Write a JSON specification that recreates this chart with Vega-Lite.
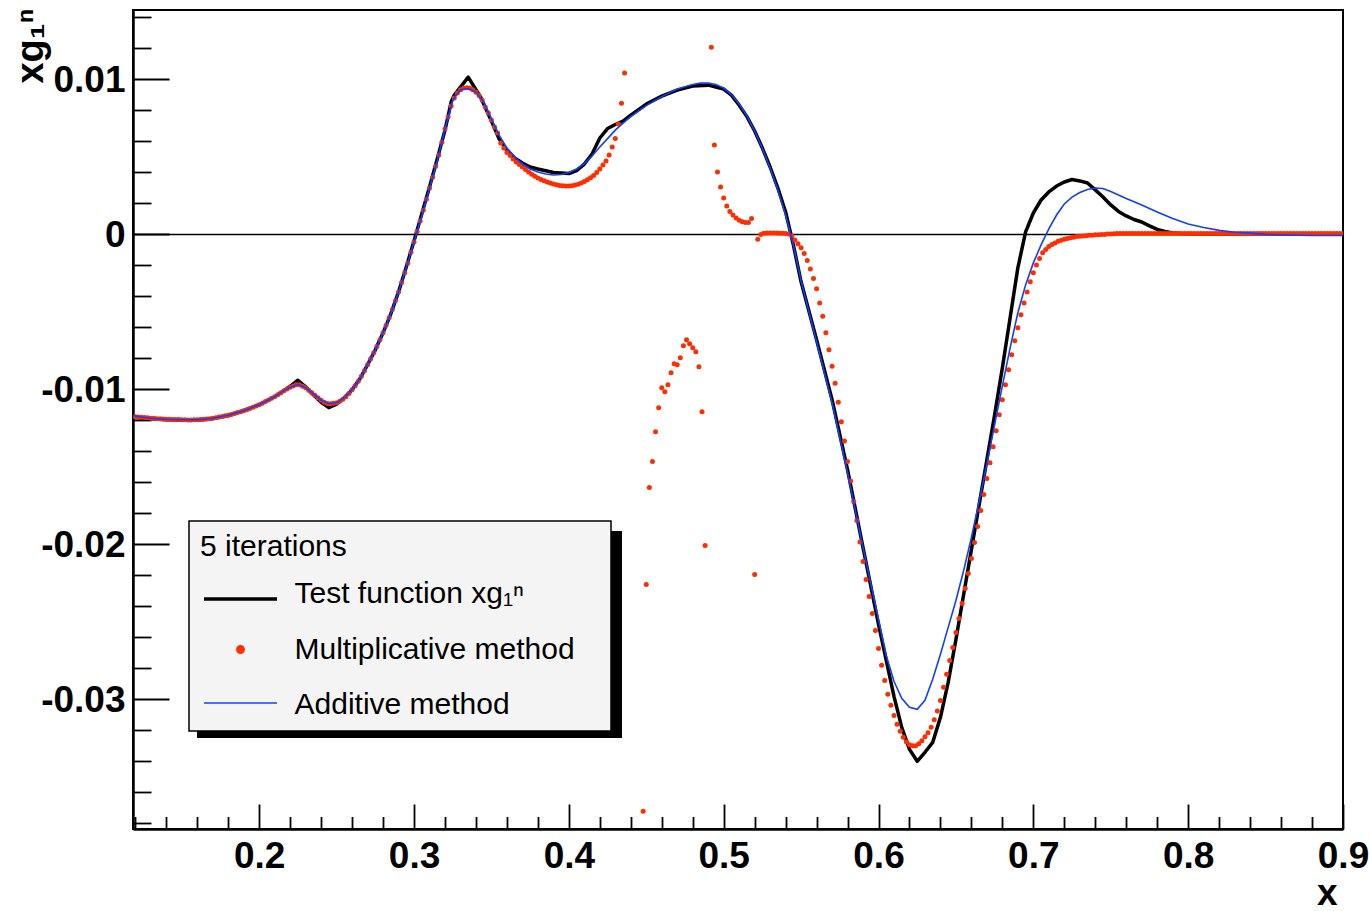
{
"$schema": "https://vega.github.io/schema/vega-lite/v6.json",
"width": 1210,
"height": 819,
"autosize": {"type": "none"},
"padding": {"left": 133, "top": 10, "right": 26, "bottom": 82},
"background": "white",
"config": {
  "font": "Liberation Sans",
  "view": {"stroke": "black", "strokeWidth": 2},
  "axis": {"labelColor": "black", "titleColor": "black", "domainColor": "black", "tickColor": "black"}
},
"datasets": {
"T": [
{"x":0.1185,"y":-0.01183},{"x":0.125,"y":-0.01189},{"x":0.13,"y":-0.01192},{"x":0.14,"y":-0.01199},{"x":0.15,"y":-0.01202},{"x":0.16,"y":-0.01202},{"x":0.17,"y":-0.01192},{"x":0.18,"y":-0.01173},{"x":0.19,"y":-0.01141},{"x":0.2,"y":-0.01102},{"x":0.21,"y":-0.01051},{"x":0.215,"y":-0.01018},{"x":0.22,"y":-0.00983},{"x":0.225,"y":-0.00944},{"x":0.23,"y":-0.00986},{"x":0.235,"y":-0.01038},{"x":0.24,"y":-0.01086},{"x":0.245,"y":-0.01121},{"x":0.25,"y":-0.01099},{"x":0.255,"y":-0.01057},{"x":0.26,"y":-0.01005},{"x":0.265,"y":-0.00935},{"x":0.27,"y":-0.00844},{"x":0.275,"y":-0.00748},{"x":0.28,"y":-0.00638},{"x":0.285,"y":-0.00516},{"x":0.29,"y":-0.00374},{"x":0.295,"y":-0.00213},{"x":0.3,"y":-0.00045},{"x":0.305,"y":0.00129},{"x":0.31,"y":0.00303},{"x":0.315,"y":0.00483},{"x":0.32,"y":0.0067},{"x":0.324,"y":0.00851},{"x":0.326,"y":0.00896},{"x":0.335,"y":0.01012},{"x":0.343,"y":0.00883},{"x":0.35,"y":0.00728},{"x":0.355,"y":0.00612},{"x":0.36,"y":0.00541},{"x":0.365,"y":0.0049},{"x":0.37,"y":0.00458},{"x":0.375,"y":0.00432},{"x":0.38,"y":0.00419},{"x":0.39,"y":0.00396},{"x":0.4,"y":0.0039},{"x":0.405,"y":0.00409},{"x":0.41,"y":0.00451},{"x":0.415,"y":0.00516},{"x":0.42,"y":0.00619},{"x":0.425,"y":0.0068},{"x":0.43,"y":0.00706},{"x":0.435,"y":0.00728},{"x":0.44,"y":0.00767},{"x":0.45,"y":0.00838},{"x":0.46,"y":0.00889},{"x":0.47,"y":0.00928},{"x":0.48,"y":0.00954},{"x":0.49,"y":0.0096},{"x":0.5,"y":0.00935},{"x":0.505,"y":0.00896},{"x":0.51,"y":0.00831},{"x":0.515,"y":0.00757},{"x":0.52,"y":0.00664},{"x":0.525,"y":0.00554},{"x":0.53,"y":0.00432},{"x":0.535,"y":0.00296},{"x":0.54,"y":0.00142},{"x":0.545,"y":-0.00071},{"x":0.55,"y":-0.00309},{"x":0.56,"y":-0.00683},{"x":0.57,"y":-0.0107},{"x":0.58,"y":-0.01521},{"x":0.59,"y":-0.02024},{"x":0.6,"y":-0.0252},{"x":0.61,"y":-0.02984},{"x":0.615,"y":-0.03184},{"x":0.62,"y":-0.03326},{"x":0.625,"y":-0.03403},{"x":0.63,"y":-0.03345},{"x":0.635,"y":-0.03281},{"x":0.64,"y":-0.03119},{"x":0.645,"y":-0.02894},{"x":0.65,"y":-0.02617},{"x":0.655,"y":-0.02327},{"x":0.66,"y":-0.02037},{"x":0.665,"y":-0.01747},{"x":0.67,"y":-0.01457},{"x":0.675,"y":-0.01167},{"x":0.68,"y":-0.00864},{"x":0.685,"y":-0.00541},{"x":0.69,"y":-0.00219},{"x":0.695,"y":0.00013},{"x":0.7,"y":0.00135},{"x":0.705,"y":0.00219},{"x":0.71,"y":0.00271},{"x":0.715,"y":0.00309},{"x":0.72,"y":0.00335},{"x":0.725,"y":0.00351},{"x":0.73,"y":0.00342},{"x":0.735,"y":0.00329},{"x":0.74,"y":0.00284},{"x":0.745,"y":0.00238},{"x":0.75,"y":0.00187},{"x":0.755,"y":0.00145},{"x":0.76,"y":0.00116},{"x":0.765,"y":0.00093},{"x":0.77,"y":0.00077},{"x":0.775,"y":0.00052},{"x":0.78,"y":0.00029},{"x":0.785,"y":0.00016},{"x":0.79,"y":0.00006},{"x":0.8,"y":0},{"x":0.85,"y":0},{"x":0.9,"y":0}
],
"A": [
{"x":0.1185,"y":-0.01173},{"x":0.125,"y":-0.01183},{"x":0.13,"y":-0.01189},{"x":0.14,"y":-0.01196},{"x":0.15,"y":-0.01199},{"x":0.16,"y":-0.01199},{"x":0.17,"y":-0.01189},{"x":0.18,"y":-0.0117},{"x":0.19,"y":-0.01141},{"x":0.2,"y":-0.01102},{"x":0.21,"y":-0.01051},{"x":0.215,"y":-0.01018},{"x":0.22,"y":-0.00989},{"x":0.225,"y":-0.0097},{"x":0.23,"y":-0.00993},{"x":0.235,"y":-0.01031},{"x":0.24,"y":-0.01073},{"x":0.245,"y":-0.01096},{"x":0.25,"y":-0.01089},{"x":0.255,"y":-0.01057},{"x":0.26,"y":-0.01005},{"x":0.265,"y":-0.00935},{"x":0.27,"y":-0.00844},{"x":0.275,"y":-0.00748},{"x":0.28,"y":-0.00638},{"x":0.285,"y":-0.00516},{"x":0.29,"y":-0.00374},{"x":0.295,"y":-0.00219},{"x":0.3,"y":-0.00052},{"x":0.305,"y":0.00116},{"x":0.31,"y":0.00296},{"x":0.315,"y":0.0047},{"x":0.32,"y":0.00677},{"x":0.325,"y":0.00864},{"x":0.33,"y":0.00931},{"x":0.335,"y":0.00938},{"x":0.34,"y":0.00915},{"x":0.345,"y":0.00851},{"x":0.35,"y":0.00741},{"x":0.355,"y":0.00638},{"x":0.36,"y":0.00554},{"x":0.365,"y":0.00496},{"x":0.37,"y":0.00451},{"x":0.375,"y":0.00419},{"x":0.38,"y":0.004},{"x":0.385,"y":0.00387},{"x":0.39,"y":0.0038},{"x":0.395,"y":0.00383},{"x":0.4,"y":0.00396},{"x":0.405,"y":0.00419},{"x":0.41,"y":0.00454},{"x":0.415,"y":0.00503},{"x":0.42,"y":0.00561},{"x":0.425,"y":0.00615},{"x":0.43,"y":0.0067},{"x":0.435,"y":0.00715},{"x":0.44,"y":0.00757},{"x":0.45,"y":0.00828},{"x":0.46,"y":0.00886},{"x":0.47,"y":0.00935},{"x":0.48,"y":0.00964},{"x":0.485,"y":0.00973},{"x":0.49,"y":0.00973},{"x":0.495,"y":0.00964},{"x":0.5,"y":0.00941},{"x":0.505,"y":0.00899},{"x":0.51,"y":0.00838},{"x":0.515,"y":0.00761},{"x":0.52,"y":0.00664},{"x":0.525,"y":0.00551},{"x":0.53,"y":0.00425},{"x":0.535,"y":0.00284},{"x":0.54,"y":0.00122},{"x":0.545,"y":-0.00071},{"x":0.55,"y":-0.00303},{"x":0.56,"y":-0.00696},{"x":0.57,"y":-0.01089},{"x":0.58,"y":-0.0154},{"x":0.59,"y":-0.02024},{"x":0.6,"y":-0.02488},{"x":0.605,"y":-0.0272},{"x":0.61,"y":-0.02887},{"x":0.615,"y":-0.02997},{"x":0.62,"y":-0.03055},{"x":0.625,"y":-0.03068},{"x":0.63,"y":-0.0301},{"x":0.635,"y":-0.02874},{"x":0.64,"y":-0.02713},{"x":0.645,"y":-0.02539},{"x":0.65,"y":-0.02365},{"x":0.655,"y":-0.02172},{"x":0.66,"y":-0.01959},{"x":0.665,"y":-0.01727},{"x":0.67,"y":-0.01482},{"x":0.675,"y":-0.01231},{"x":0.68,"y":-0.0098},{"x":0.685,"y":-0.00735},{"x":0.69,"y":-0.00509},{"x":0.695,"y":-0.00329},{"x":0.7,"y":-0.00187},{"x":0.705,"y":-0.00071},{"x":0.71,"y":0.00032},{"x":0.715,"y":0.00122},{"x":0.72,"y":0.00193},{"x":0.725,"y":0.00238},{"x":0.73,"y":0.00267},{"x":0.735,"y":0.00287},{"x":0.74,"y":0.00296},{"x":0.745,"y":0.00293},{"x":0.75,"y":0.00274},{"x":0.76,"y":0.00229},{"x":0.77,"y":0.00187},{"x":0.78,"y":0.00142},{"x":0.79,"y":0.001},{"x":0.8,"y":0.00064},{"x":0.81,"y":0.00042},{"x":0.82,"y":0.00023},{"x":0.83,"y":0.00011},{"x":0.84,"y":0.00005},{"x":0.85,"y":-0.00003},{"x":0.86,"y":-0.00006},{"x":0.88,"y":-0.0001},{"x":0.9,"y":-0.0001}
],
"M": [
{"x":0.12,"y":-0.01179},{"x":0.122,"y":-0.01181},{"x":0.124,"y":-0.01183},{"x":0.126,"y":-0.01185},{"x":0.128,"y":-0.01187},{"x":0.13,"y":-0.01189},{"x":0.132,"y":-0.0119},{"x":0.134,"y":-0.01192},{"x":0.136,"y":-0.01193},{"x":0.138,"y":-0.01194},{"x":0.14,"y":-0.01196},{"x":0.142,"y":-0.01196},{"x":0.144,"y":-0.01197},{"x":0.146,"y":-0.01198},{"x":0.148,"y":-0.01198},{"x":0.15,"y":-0.01199},{"x":0.152,"y":-0.01199},{"x":0.154,"y":-0.012},{"x":0.156,"y":-0.012},{"x":0.158,"y":-0.01199},{"x":0.16,"y":-0.01199},{"x":0.162,"y":-0.01197},{"x":0.164,"y":-0.01196},{"x":0.166,"y":-0.01194},{"x":0.168,"y":-0.01192},{"x":0.17,"y":-0.01189},{"x":0.172,"y":-0.01186},{"x":0.174,"y":-0.01182},{"x":0.176,"y":-0.01178},{"x":0.178,"y":-0.01174},{"x":0.18,"y":-0.0117},{"x":0.182,"y":-0.01165},{"x":0.184,"y":-0.01159},{"x":0.186,"y":-0.01153},{"x":0.188,"y":-0.01147},{"x":0.19,"y":-0.01141},{"x":0.192,"y":-0.01134},{"x":0.194,"y":-0.01126},{"x":0.196,"y":-0.01118},{"x":0.198,"y":-0.01111},{"x":0.2,"y":-0.01102},{"x":0.202,"y":-0.01092},{"x":0.204,"y":-0.01081},{"x":0.206,"y":-0.01071},{"x":0.208,"y":-0.01061},{"x":0.21,"y":-0.01051},{"x":0.212,"y":-0.01038},{"x":0.214,"y":-0.01025},{"x":0.216,"y":-0.01012},{"x":0.218,"y":-0.01001},{"x":0.22,"y":-0.00989},{"x":0.222,"y":-0.00981},{"x":0.224,"y":-0.00973},{"x":0.226,"y":-0.00973},{"x":0.228,"y":-0.00983},{"x":0.23,"y":-0.00993},{"x":0.232,"y":-0.01009},{"x":0.234,"y":-0.01025},{"x":0.236,"y":-0.01041},{"x":0.238,"y":-0.01057},{"x":0.24,"y":-0.01073},{"x":0.242,"y":-0.01086},{"x":0.244,"y":-0.01095},{"x":0.246,"y":-0.01096},{"x":0.248,"y":-0.01093},{"x":0.25,"y":-0.01089},{"x":0.252,"y":-0.0108},{"x":0.254,"y":-0.01067},{"x":0.256,"y":-0.01051},{"x":0.258,"y":-0.0103},{"x":0.26,"y":-0.01005},{"x":0.262,"y":-0.0098},{"x":0.264,"y":-0.00951},{"x":0.266,"y":-0.00918},{"x":0.268,"y":-0.00883},{"x":0.27,"y":-0.00844},{"x":0.272,"y":-0.00806},{"x":0.274,"y":-0.00767},{"x":0.276,"y":-0.00727},{"x":0.278,"y":-0.00683},{"x":0.28,"y":-0.00638},{"x":0.282,"y":-0.0059},{"x":0.284,"y":-0.0054},{"x":0.286,"y":-0.00487},{"x":0.288,"y":-0.00432},{"x":0.29,"y":-0.00374},{"x":0.292,"y":-0.00313},{"x":0.294,"y":-0.0025},{"x":0.296,"y":-0.00187},{"x":0.298,"y":-0.00119},{"x":0.3,"y":-0.00052},{"x":0.302,"y":0.00016},{"x":0.304,"y":0.00084},{"x":0.306,"y":0.00152},{"x":0.308,"y":0.00224},{"x":0.31,"y":0.00296},{"x":0.312,"y":0.00366},{"x":0.314,"y":0.00436},{"x":0.316,"y":0.00509},{"x":0.318,"y":0.00592},{"x":0.32,"y":0.00677},{"x":0.322,"y":0.00754},{"x":0.324,"y":0.00825},{"x":0.326,"y":0.00877},{"x":0.328,"y":0.00909},{"x":0.33,"y":0.00931},{"x":0.332,"y":0.00941},{"x":0.334,"y":0.00944},{"x":0.336,"y":0.00941},{"x":0.338,"y":0.00931},{"x":0.34,"y":0.00915},{"x":0.342,"y":0.00893},{"x":0.344,"y":0.00864},{"x":0.346,"y":0.00819},{"x":0.348,"y":0.0078},{"x":0.35,"y":0.00735},{"x":0.352,"y":0.0069},{"x":0.354,"y":0.00651},{"x":0.356,"y":0.00586},{"x":0.358,"y":0.00554},{"x":0.36,"y":0.00525},{"x":0.362,"y":0.00506},{"x":0.364,"y":0.00483},{"x":0.366,"y":0.00464},{"x":0.368,"y":0.00448},{"x":0.37,"y":0.00432},{"x":0.372,"y":0.00416},{"x":0.374,"y":0.004},{"x":0.376,"y":0.00385},{"x":0.378,"y":0.00372},{"x":0.38,"y":0.00361},{"x":0.382,"y":0.00351},{"x":0.384,"y":0.00343},{"x":0.386,"y":0.00335},{"x":0.388,"y":0.00329},{"x":0.39,"y":0.00322},{"x":0.392,"y":0.00317},{"x":0.394,"y":0.00313},{"x":0.396,"y":0.00311},{"x":0.398,"y":0.00309},{"x":0.4,"y":0.00309},{"x":0.402,"y":0.00311},{"x":0.404,"y":0.00315},{"x":0.406,"y":0.00321},{"x":0.408,"y":0.00329},{"x":0.41,"y":0.00338},{"x":0.412,"y":0.00349},{"x":0.414,"y":0.00362},{"x":0.416,"y":0.00377},{"x":0.418,"y":0.00396},{"x":0.42,"y":0.00419},{"x":0.422,"y":0.00445},{"x":0.424,"y":0.0047},{"x":0.426,"y":0.00509},{"x":0.428,"y":0.00561},{"x":0.43,"y":0.00615},{"x":0.432,"y":0.00709},{"x":0.434,"y":0.00844},{"x":0.436,"y":0.01038},
{"x":0.448,"y":-0.03725},{"x":0.45,"y":-0.02262},{"x":0.452,"y":-0.01637},{"x":0.454,"y":-0.01469},{"x":0.456,"y":-0.01276},{"x":0.458,"y":-0.01121},{"x":0.46,"y":-0.00993},{"x":0.462,"y":-0.01018},{"x":0.464,"y":-0.00973},{"x":0.466,"y":-0.00896},{"x":0.468,"y":-0.00838},{"x":0.47,"y":-0.00844},{"x":0.472,"y":-0.00799},{"x":0.474,"y":-0.00722},{"x":0.476,"y":-0.00683},{"x":0.478,"y":-0.00709},{"x":0.48,"y":-0.00735},{"x":0.482,"y":-0.00761},{"x":0.484,"y":-0.00857},{"x":0.486,"y":-0.01147},{"x":0.488,"y":-0.02011},
{"x":0.492,"y":0.01205},{"x":0.494,"y":0.00574},{"x":0.496,"y":0.004},{"x":0.498,"y":0.00303},{"x":0.5,"y":0.00232},{"x":0.502,"y":0.0018},{"x":0.504,"y":0.00145},{"x":0.506,"y":0.00122},{"x":0.508,"y":0.00103},{"x":0.51,"y":0.00088},{"x":0.512,"y":0.00079},{"x":0.514,"y":0.00074},{"x":0.516,"y":0.00073},{"x":0.518,"y":0.001},{"x":0.52,"y":-0.02198},{"x":0.522,"y":-0.00035},{"x":0.524,"y":-0.00003},{"x":0.526,"y":0.00005},{"x":0.528,"y":0.00006},{"x":0.53,"y":0.00006},{"x":0.532,"y":0.00006},{"x":0.534,"y":0.00006},{"x":0.536,"y":0.00005},{"x":0.538,"y":0.00004},{"x":0.54,"y":0.00003},{"x":0.542,"y":0},{"x":0.544,"y":-0.00013},{"x":0.546,"y":-0.00039},{"x":0.548,"y":-0.00064},{"x":0.55,"y":-0.0009},{"x":0.552,"y":-0.00126},{"x":0.554,"y":-0.00171},{"x":0.556,"y":-0.00226},{"x":0.558,"y":-0.00287},{"x":0.56,"y":-0.00354},{"x":0.562,"y":-0.00445},{"x":0.564,"y":-0.00532},{"x":0.566,"y":-0.00638},{"x":0.568,"y":-0.00748},{"x":0.57,"y":-0.00854},{"x":0.572,"y":-0.00964},{"x":0.574,"y":-0.01086},{"x":0.576,"y":-0.01212},{"x":0.578,"y":-0.01337},{"x":0.58,"y":-0.01469},{"x":0.582,"y":-0.01595},{"x":0.584,"y":-0.01727},{"x":0.586,"y":-0.0185},{"x":0.588,"y":-0.01988},{"x":0.59,"y":-0.02114},{"x":0.592,"y":-0.0223},{"x":0.594,"y":-0.0234},{"x":0.596,"y":-0.02449},{"x":0.598,"y":-0.02559},{"x":0.6,"y":-0.02675},{"x":0.602,"y":-0.02784},{"x":0.604,"y":-0.02881},{"x":0.606,"y":-0.02971},{"x":0.608,"y":-0.03042},{"x":0.61,"y":-0.03107},{"x":0.612,"y":-0.03164},{"x":0.614,"y":-0.0321},{"x":0.616,"y":-0.03248},{"x":0.618,"y":-0.03277},{"x":0.62,"y":-0.03297},{"x":0.622,"y":-0.03303},{"x":0.624,"y":-0.03302},{"x":0.626,"y":-0.0329},{"x":0.628,"y":-0.03271},{"x":0.63,"y":-0.03245},{"x":0.632,"y":-0.03219},{"x":0.634,"y":-0.03184},{"x":0.636,"y":-0.03135},{"x":0.638,"y":-0.03078},{"x":0.64,"y":-0.0301},{"x":0.642,"y":-0.02926},{"x":0.644,"y":-0.02842},{"x":0.646,"y":-0.02752},{"x":0.648,"y":-0.02668},{"x":0.65,"y":-0.02572},{"x":0.652,"y":-0.02481},{"x":0.654,"y":-0.02385},{"x":0.656,"y":-0.02288},{"x":0.658,"y":-0.02191},{"x":0.66,"y":-0.02095},{"x":0.662,"y":-0.01992},{"x":0.664,"y":-0.01888},{"x":0.666,"y":-0.01785},{"x":0.668,"y":-0.01682},{"x":0.67,"y":-0.01579},{"x":0.672,"y":-0.01476},{"x":0.674,"y":-0.01373},{"x":0.676,"y":-0.0127},{"x":0.678,"y":-0.01167},{"x":0.68,"y":-0.0107},{"x":0.682,"y":-0.00973},{"x":0.684,"y":-0.00877},{"x":0.686,"y":-0.0078},{"x":0.688,"y":-0.0069},{"x":0.69,"y":-0.00606},{"x":0.692,"y":-0.00522},{"x":0.694,"y":-0.00445},{"x":0.696,"y":-0.00374},{"x":0.698,"y":-0.00309},{"x":0.7,"y":-0.00251},{"x":0.702,"y":-0.002},{"x":0.704,"y":-0.00158},{"x":0.706,"y":-0.00122},{"x":0.708,"y":-0.001},{"x":0.71,"y":-0.00081},{"x":0.712,"y":-0.00068},{"x":0.714,"y":-0.00058},{"x":0.716,"y":-0.00048},{"x":0.718,"y":-0.00041},{"x":0.72,"y":-0.00034},{"x":0.722,"y":-0.00029},{"x":0.724,"y":-0.00024},{"x":0.726,"y":-0.00021},{"x":0.728,"y":-0.00017},{"x":0.73,"y":-0.00015},{"x":0.732,"y":-0.00013},{"x":0.734,"y":-0.00011},{"x":0.736,"y":-0.00009},{"x":0.738,"y":-0.00008},{"x":0.74,"y":-0.00006},{"x":0.742,"y":-0.00005},{"x":0.744,"y":-0.00004},{"x":0.746,"y":-0.00003},{"x":0.748,"y":-0.00001},{"x":0.75,"y":0},
{"x":0.752,"y":0.00001},{"x":0.754,"y":0.00002},{"x":0.756,"y":0.00002},{"x":0.758,"y":0.00003},{"x":0.76,"y":0.00003},{"x":0.762,"y":0.00003},{"x":0.764,"y":0.00003},{"x":0.766,"y":0.00003},{"x":0.768,"y":0.00003},{"x":0.77,"y":0.00003},{"x":0.772,"y":0.00003},{"x":0.774,"y":0.00003},{"x":0.776,"y":0.00003},{"x":0.778,"y":0.00003},{"x":0.78,"y":0.00003},{"x":0.782,"y":0.00003},{"x":0.784,"y":0.00003},{"x":0.786,"y":0.00003},{"x":0.788,"y":0.00003},{"x":0.79,"y":0.00003},{"x":0.792,"y":0.00003},{"x":0.794,"y":0.00003},{"x":0.796,"y":0.00003},{"x":0.798,"y":0.00003},{"x":0.8,"y":0.00003},{"x":0.802,"y":0.00003},{"x":0.804,"y":0.00003},{"x":0.806,"y":0.00003},{"x":0.808,"y":0.00003},{"x":0.81,"y":0.00003},{"x":0.812,"y":0.00003},{"x":0.814,"y":0.00003},{"x":0.816,"y":0.00003},{"x":0.818,"y":0.00003},{"x":0.82,"y":0.00003},{"x":0.822,"y":0.00003},{"x":0.824,"y":0.00003},{"x":0.826,"y":0.00003},{"x":0.828,"y":0.00003},{"x":0.83,"y":0.00003},{"x":0.832,"y":0.00003},{"x":0.834,"y":0.00003},{"x":0.836,"y":0.00003},{"x":0.838,"y":0.00003},{"x":0.84,"y":0.00003},{"x":0.842,"y":0.00003},{"x":0.844,"y":0.00003},{"x":0.846,"y":0.00003},{"x":0.848,"y":0.00003},{"x":0.85,"y":0.00003},{"x":0.852,"y":0.00003},{"x":0.854,"y":0.00003},{"x":0.856,"y":0.00003},{"x":0.858,"y":0.00003},{"x":0.86,"y":0.00003},{"x":0.862,"y":0.00003},{"x":0.864,"y":0.00003},{"x":0.866,"y":0.00003},{"x":0.868,"y":0.00003},{"x":0.87,"y":0.00003},{"x":0.872,"y":0.00003},{"x":0.874,"y":0.00003},{"x":0.876,"y":0.00003},{"x":0.878,"y":0.00003},{"x":0.88,"y":0.00003},{"x":0.882,"y":0.00003},{"x":0.884,"y":0.00003},{"x":0.886,"y":0.00003},{"x":0.888,"y":0.00003},{"x":0.89,"y":0.00003},{"x":0.892,"y":0.00003},{"x":0.894,"y":0.00003},{"x":0.896,"y":0.00003},{"x":0.898,"y":0.00003},{"x":0.9,"y":0.00003}
]
},
"resolve": {"axis": {"x": "independent", "y": "independent"}},
"layer": [
{
  "data": {"name": "T"},
  "mark": {"type": "line", "strokeWidth": 3.5, "clip": true, "strokeJoin": "round"},
  "encoding": {
    "x": {"field": "x", "type": "quantitative",
      "scale": {"domain": [0.1185, 0.9], "nice": false, "zero": false},
      "axis": {"orient": "bottom", "values": [0.2,0.3,0.4,0.5,0.6,0.7,0.8,0.9], "format": ".1f", "ticks": false, "grid": false, "domain": true, "domainWidth": 2.5, "domainColor": "black",
        "labelFont": "Liberation Sans", "labelFontWeight": "bold", "labelFontSize": 37, "labelPadding": 9, "labelColor": "black", "labelFlush": false, "labelOverlap": false,
        "title": "x", "titleFont": "Liberation Sans", "titleFontWeight": "bold", "titleFontSize": 37, "titleX": 1204, "titleY": 75, "titleAlign": "right", "titleBaseline": "alphabetic", "titleColor": "black"}},
    "y": {"field": "y", "type": "quantitative",
      "scale": {"domain": [-0.0384, 0.01445], "nice": false, "zero": false},
      "axis": {"orient": "left", "values": [-0.03,-0.02,-0.01,0,0.01], "ticks": false, "domain": true, "domainWidth": 2.5, "domainColor": "black",
        "grid": true, "gridColor": "black", "gridWidth": 1.5, "gridOpacity": {"condition": {"test": "datum.value === 0", "value": 1}, "value": 0},
        "labelFont": "Liberation Sans", "labelFontWeight": "bold", "labelFontSize": 37, "labelPadding": 8, "labelOffset": 2, "labelColor": "black", "labelOverlap": false, "labelFlush": false,
        "labelExpr": "replace(format(datum.value, '~g'), '\u2212', '-')",
        "title": "xg\u2081\u207f", "titleFont": "Liberation Sans", "titleFontWeight": "bold", "titleFontSize": 38, "titleAngle": 270, "titleX": -91, "titleY": -2, "titleAlign": "right", "titleBaseline": "alphabetic", "titleColor": "black"}},
    "color": {"datum": "Test function xg\u2081\u207f", "type": "nominal",
      "scale": {"domain": ["Test function xg\u2081\u207f", "Multiplicative method", "Additive method"], "range": ["#000000", "#ff2d00", "#1040ff"]},
      "legend": {"orient": "none", "legendX": 56, "legendY": 511, "direction": "vertical", "zindex": 1,
        "title": "5 iterations", "titleFont": "Liberation Sans", "titleFontSize": 30, "titleFontWeight": "normal", "titleColor": "black", "titlePadding": 17, "titleAnchor": "start",
        "labelFont": "Liberation Sans", "labelFontSize": 30, "labelColor": "black", "labelLimit": 600, "labelOffset": 39,
        "labelExpr": "datum.label + '\u00a0\u00a0\u00a0\u200b'",
        "symbolOffset": 25.5, "symbolSize": 100, "symbolStrokeWidth": 3.5, "rowPadding": 25.5, "padding": 11,
        "fillColor": "#f4f4f4", "strokeColor": "black",
        "encode": {
          "legend": {"update": {"strokeWidth": {"value": 1.5}}},
          "symbols": {"update": {
            "shape": {"signal": "datum.value === 'Multiplicative method' ? 'M0.54,0A0.54,0.54,0,1,1,-0.54,0A0.54,0.54,0,1,1,0.54,0Z' : (datum.value === 'Additive method' ? 'M-7.3,-0.4L7.3,-0.4' : 'M-7.3,1L7.3,1')"},
            "fill": {"signal": "datum.value === 'Multiplicative method' ? '#ff2d00' : 'transparent'"},
            "stroke": {"signal": "datum.value === 'Multiplicative method' ? 'transparent' : (datum.value === 'Additive method' ? '#1040ff' : '#000000')"},
            "strokeWidth": {"signal": "(datum.value === 'Additive method' ? 1.6 : 3.5)"},
            "opacity": {"value": 1}
          }}
        }
      }}
  }
},
{
  "data": {"name": "M"},
  "mark": {"type": "point", "shape": "circle", "filled": true, "size": 25, "opacity": 1, "strokeWidth": 0, "clip": true},
  "encoding": {
    "x": {"field": "x", "type": "quantitative",
      "scale": {"domain": [0.1185, 0.9], "nice": false, "zero": false},
      "axis": {"orient": "bottom", "values": [0.2,0.3,0.4,0.5,0.6,0.7,0.8,0.9], "labels": false, "domain": false, "grid": false, "ticks": true, "tickSize": -25, "tickWidth": 1.8, "tickColor": "black", "title": null}},
    "y": {"field": "y", "type": "quantitative",
      "scale": {"domain": [-0.0384, 0.01445], "nice": false, "zero": false},
      "axis": {"orient": "left", "values": [-0.03,-0.02,-0.01,0,0.01], "labels": false, "domain": false, "grid": false, "ticks": true, "tickSize": -36, "tickWidth": 1.8, "tickColor": "black", "title": null}},
    "color": {"datum": "Multiplicative method", "type": "nominal"},
    "stroke": {"datum": 1, "type": "quantitative",
      "scale": {"domain": [0, 1], "range": ["#000000", "#000000"]},
      "legend": {"orient": "none", "legendX": 64, "legendY": 521, "direction": "vertical", "zindex": 0,
        "title": null, "values": [], "padding": 0,
        "gradientLength": 207, "gradientThickness": 425, "gradientStrokeColor": "black", "gradientStrokeWidth": 0}}
  }
},
{
  "data": {"name": "A"},
  "mark": {"type": "line", "strokeWidth": 1.6, "clip": true},
  "encoding": {
    "x": {"field": "x", "type": "quantitative",
      "scale": {"domain": [0.1185, 0.9], "nice": false, "zero": false},
      "axis": {"orient": "bottom", "values": [0.12,0.14,0.16,0.18,0.22,0.24,0.26,0.28,0.32,0.34,0.36,0.38,0.42,0.44,0.46,0.48,0.52,0.54,0.56,0.58,0.62,0.64,0.66,0.68,0.72,0.74,0.76,0.78,0.82,0.84,0.86,0.88], "labels": false, "domain": false, "grid": false, "ticks": true, "tickSize": -12.5, "tickWidth": 1.8, "tickColor": "black", "title": null}},
    "y": {"field": "y", "type": "quantitative",
      "scale": {"domain": [-0.0384, 0.01445], "nice": false, "zero": false},
      "axis": {"orient": "left", "values": [-0.038,-0.036,-0.034,-0.032,-0.028,-0.026,-0.024,-0.022,-0.018,-0.016,-0.014,-0.012,-0.008,-0.006,-0.004,-0.002,0.002,0.004,0.006,0.008,0.012,0.014], "labels": false, "domain": false, "grid": false, "ticks": true, "tickSize": -18, "tickWidth": 1.8, "tickColor": "black", "title": null}},
    "color": {"datum": "Additive method", "type": "nominal"}
  }
}
]
}
